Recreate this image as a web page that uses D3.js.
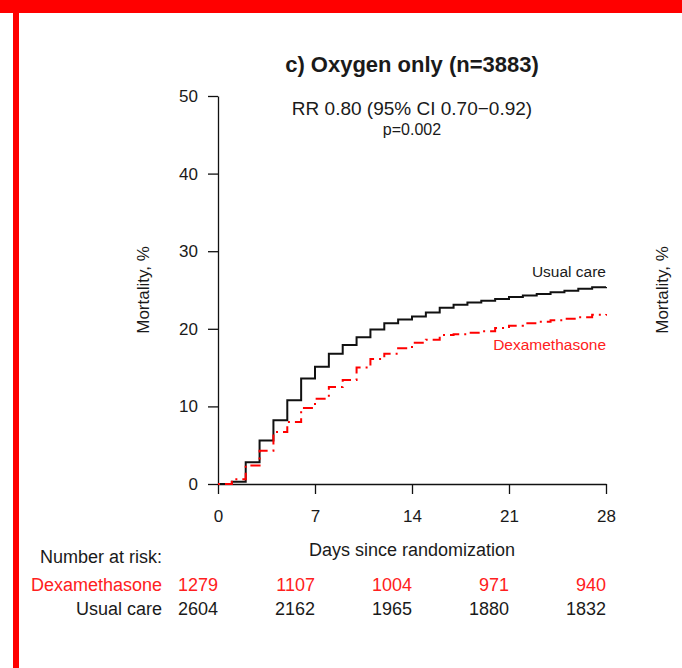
<!DOCTYPE html>
<html><head><meta charset="utf-8">
<script src="https://cdn.jsdelivr.net/npm/d3@7"></script>
<style>
body{margin:0;background:#fff}
svg{display:block}
text{font-family:"Liberation Sans",Arial,Helvetica,sans-serif;fill:#1a1a1a}
</style>
</head><body>
<svg id="chart" width="682" height="668"></svg>
<script>
// ---- data ----
const days = d3.range(0, 29);
const usualCare = [0, 0.3, 2.8, 5.6, 8.2, 10.8, 13.6, 15.1, 16.8, 17.9, 18.9, 19.9, 20.7, 21.2, 21.6, 22.1, 22.7, 23.1, 23.4, 23.6, 23.85, 24.1, 24.3, 24.5, 24.7, 24.9, 25.15, 25.35, 25.4];
const dexamethasone = [0, 0.6, 2.4, 4.3, 6.7, 8.0, 9.8, 11.0, 12.5, 13.4, 15.0, 16.1, 16.8, 17.5, 18.2, 18.6, 19.2, 19.3, 19.5, 19.7, 20.1, 20.4, 20.7, 20.9, 21.1, 21.3, 21.5, 21.8, 21.9];
const xTicks = [0, 7, 14, 21, 28];
const yTicks = [0, 10, 20, 30, 40, 50];
const riskDays = [0, 7, 14, 21, 28];
const riskDexamethasone = [1279, 1107, 1004, 971, 940];
const riskUsualCare = [2604, 2162, 1965, 1880, 1832];
const seriesNames = ["Usual care", "Dexamethasone"];
const title = "c) Oxygen only (n=3883)";
const subtitle = "RR 0.80 (95% CI 0.70\u22120.92)";
const pText = "p=0.002";

// ---- drawing ----
const svg = d3.select("#chart");
const RED = "#ff0000";
const TXT_RED = "#ff2020";

// frame
svg.append("rect").attr("x", 0).attr("y", 0).attr("width", 682).attr("height", 13).attr("fill", RED);
svg.append("rect").attr("x", 13).attr("y", 0).attr("width", 6).attr("height", 668).attr("fill", RED);

const x = d3.scaleLinear().domain([0, 28]).range([218, 606]);
const y = d3.scaleLinear().domain([0, 50]).range([484, 96]);

// axes
const gx = svg.append("g").attr("transform", `translate(0,${y(0)})`)
  .call(d3.axisBottom(x).tickValues(xTicks).tickSize(10).tickSizeOuter(0).tickPadding(16));
const gy = svg.append("g").attr("transform", `translate(${x(0)},0)`)
  .call(d3.axisLeft(y).tickValues(yTicks).tickSize(10).tickSizeOuter(0).tickPadding(10));
[gx, gy].forEach(g => {
  g.select(".domain").attr("stroke", "#111").attr("stroke-width", 1.3);
  g.selectAll(".tick line").attr("stroke", "#111").attr("stroke-width", 1.3);
  g.selectAll(".tick text").attr("font-size", 17).attr("fill", "#1a1a1a")
    .style("font-family", '"Liberation Sans",Arial,sans-serif');
});

// curves
const line = d3.line().x(d => x(d[0])).y(d => y(d[1])).curve(d3.curveStepAfter);
svg.append("path").datum(days.map((d, i) => [d, usualCare[i]]))
  .attr("d", line).attr("fill", "none").attr("stroke", "#111").attr("stroke-width", 2);
svg.append("path").datum(days.map((d, i) => [d, dexamethasone[i]]))
  .attr("d", line).attr("fill", "none").attr("stroke", RED).attr("stroke-width", 2)
  .attr("stroke-dasharray", "2,5,10,5");

// series labels
svg.append("text").attr("x", x(28)).attr("y", 277).attr("text-anchor", "end")
  .attr("font-size", 15.5).text(seriesNames[0]);
svg.append("text").attr("x", x(28)).attr("y", 350).attr("text-anchor", "end")
  .attr("font-size", 15.5).style("fill", TXT_RED).text(seriesNames[1]);

// titles
svg.append("text").attr("x", 412).attr("y", 72).attr("text-anchor", "middle")
  .attr("font-size", 22).attr("font-weight", "bold").text(title);
svg.append("text").attr("x", 412).attr("y", 115).attr("text-anchor", "middle")
  .attr("font-size", 19).text(subtitle);
svg.append("text").attr("x", 412).attr("y", 135).attr("text-anchor", "middle")
  .attr("font-size", 16).text(pText);

// axis titles
svg.append("text").attr("x", 412).attr("y", 556).attr("text-anchor", "middle")
  .attr("font-size", 18).text("Days since randomization");
svg.append("text").attr("transform", "translate(149,290) rotate(-90)").attr("text-anchor", "middle")
  .attr("font-size", 17).text("Mortality, %");
svg.append("text").attr("transform", "translate(668,290) rotate(-90)").attr("text-anchor", "middle")
  .attr("font-size", 17).text("Mortality, %");

// number at risk
svg.append("text").attr("x", 162).attr("y", 563).attr("text-anchor", "end")
  .attr("font-size", 18).text("Number at risk:");
svg.append("text").attr("x", 162).attr("y", 591).attr("text-anchor", "end")
  .attr("font-size", 18).style("fill", TXT_RED).text(seriesNames[1]);
svg.append("text").attr("x", 162).attr("y", 615).attr("text-anchor", "end")
  .attr("font-size", 18).text(seriesNames[0]);
svg.append("g").selectAll("text").data(riskDexamethasone).join("text")
  .attr("x", (d, i) => x(riskDays[i])).attr("y", 591).attr("text-anchor", "end")
  .attr("font-size", 18).style("fill", TXT_RED).text(d => d);
svg.append("g").selectAll("text").data(riskUsualCare).join("text")
  .attr("x", (d, i) => x(riskDays[i])).attr("y", 615).attr("text-anchor", "end")
  .attr("font-size", 18).text(d => d);
</script>
</body></html>
